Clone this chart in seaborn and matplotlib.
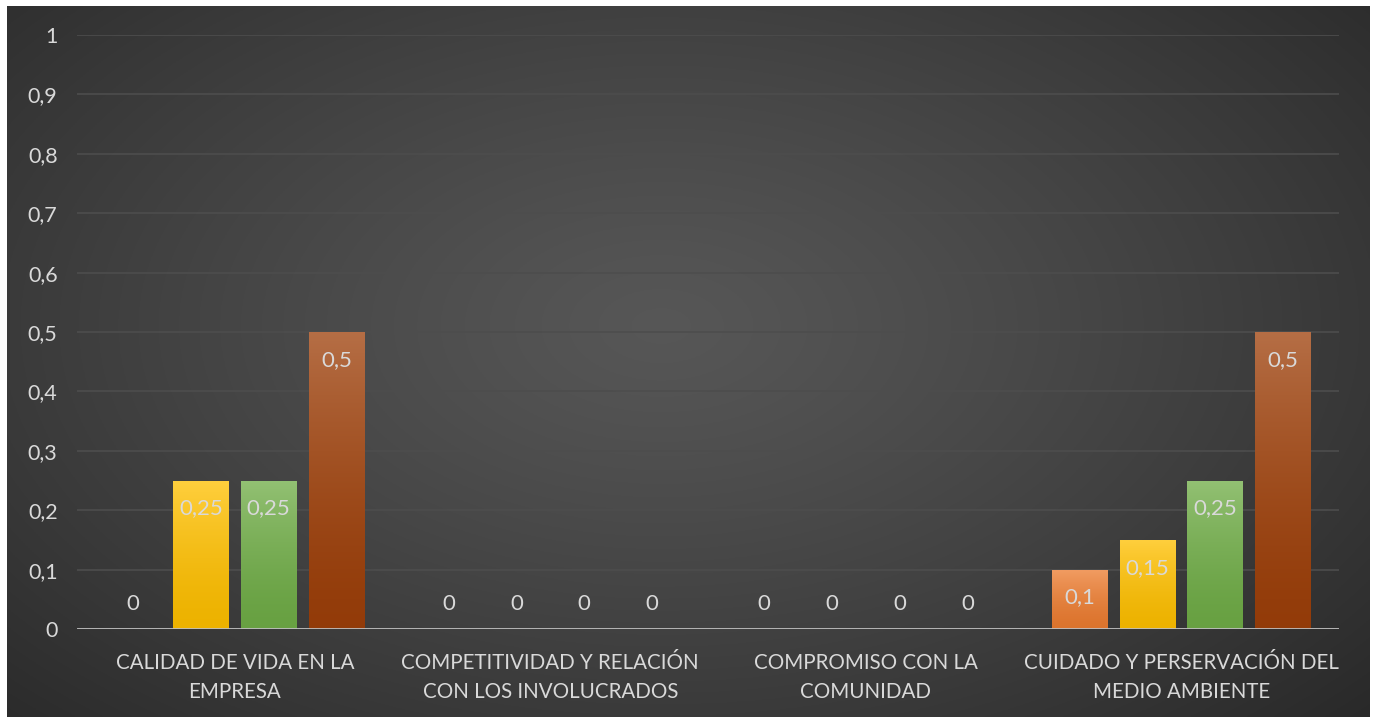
import numpy as np
import pandas as pd
import matplotlib.pyplot as plt
import matplotlib.colors as mcolors
import seaborn as sns

# Datos del gráfico
categorias = [
    "CALIDAD DE VIDA EN LA\nEMPRESA",
    "COMPETITIVIDAD Y RELACIÓN\nCON LOS INVOLUCRADOS",
    "COMPROMISO CON LA\nCOMUNIDAD",
    "CUIDADO Y PERSERVACIÓN DEL\nMEDIO AMBIENTE",
]
series = ["Serie 1", "Serie 2", "Serie 3", "Serie 4"]
serie_1 = [0, 0, 0, 0.1]
serie_2 = [0.25, 0, 0, 0.15]
serie_3 = [0.25, 0, 0, 0.25]
serie_4 = [0.5, 0, 0, 0.5]
y_ticks = [0, 0.1, 0.2, 0.3, 0.4, 0.5, 0.6, 0.7, 0.8, 0.9, 1]

colores = ["#ED7D31", "#FFC000", "#70AD47", "#9E400A"]

valores = [serie_1, serie_2, serie_3, serie_4]
df = pd.DataFrame({
    "categoria": [c for s in series for c in categorias],
    "serie": [s for s in series for c in categorias],
    "valor": [v for vals in valores for v in vals],
})

sns.set_theme(style="dark")
plt.rcParams["font.family"] = ["Lato", "DejaVu Sans"]

fig = plt.figure(figsize=(13.77, 7.17), dpi=100)
fig.patch.set_facecolor("white")

# fondo con degradado radial
bg = fig.add_axes([7 / 1377, 0, 1363 / 1377, 1 - 6 / 717], zorder=0)
yy, xx = np.mgrid[0:1:400j, 0:1:700j]
r = np.sqrt(((xx - 0.48) / 0.75) ** 2 + ((yy - 0.45) / 0.85) ** 2)
r = np.clip(r, 0, 1)
gris = 0.34 - 0.19 * r ** 1.2
bg.imshow(np.dstack([gris, gris, gris]), aspect="auto", extent=[0, 1, 0, 1])
bg.set_axis_off()

ax = fig.add_axes([77 / 1377, 1 - 629 / 717, (1339 - 77) / 1377, (629 - 35) / 717], zorder=1)
ax.set_facecolor("none")

sns.barplot(data=df, x="categoria", y="valor", hue="serie", palette=colores,
            width=0.86, gap=0.18, legend=False, ax=ax, saturation=1,
            linewidth=0, edgecolor="none", zorder=3)

ax.set_ylim(0, 1)
ax.set_xlim(-0.5, len(categorias) - 0.5)
ax.set_autoscale_on(False)

# degradado vertical en cada barra
for patch in ax.patches:
    h = patch.get_height()
    if h <= 0:
        continue
    base = np.array(mcolors.to_rgb(patch.get_facecolor()))
    t = np.linspace(0, 1, 100)[:, None]
    arriba = base + (1 - base) * 0.24
    abajo = base * 0.93
    grad = abajo + (arriba - abajo) * t ** 1.5
    grad = np.clip(grad, 0, 1)[:, None, :]
    x0 = patch.get_x()
    w = patch.get_width()
    im = ax.imshow(grad, extent=[x0, x0 + w, 0, h], origin="lower",
                   aspect="auto", zorder=4)
    im.set_clip_path(patch)

# etiquetas de datos
for cont, vals in zip(ax.containers, valores):
    for bar, v in zip(cont, vals):
        txt = f"{v:g}".replace(".", ",")
        off = -20 if v > 0 else 18
        ax.annotate(txt, (bar.get_x() + bar.get_width() / 2, v),
                    xytext=(0, off), textcoords="offset points",
                    ha="center", va="center", fontsize=16,
                    color="#d9d9d9", zorder=6)

ax.set_yticks(y_ticks)
ax.set_yticklabels([f"{v:g}".replace(".", ",") for v in y_ticks])
ax.yaxis.grid(True, color="#4d4d4d", linewidth=1.2, zorder=0)
ax.xaxis.grid(False)
ax.axhline(0, color="#bfbfbf", linewidth=2, zorder=5)
for s in ax.spines.values():
    s.set_visible(False)
ax.tick_params(axis="y", colors="#d9d9d9", labelsize=15.5, length=0, pad=14)
ax.tick_params(axis="x", colors="#d9d9d9", labelsize=14.8, length=0, pad=17)
for lbl in ax.get_xticklabels():
    lbl.set_linespacing(1.6)
ax.set_xlabel("")
ax.set_ylabel("")

fig.savefig("out.png", dpi=100)
